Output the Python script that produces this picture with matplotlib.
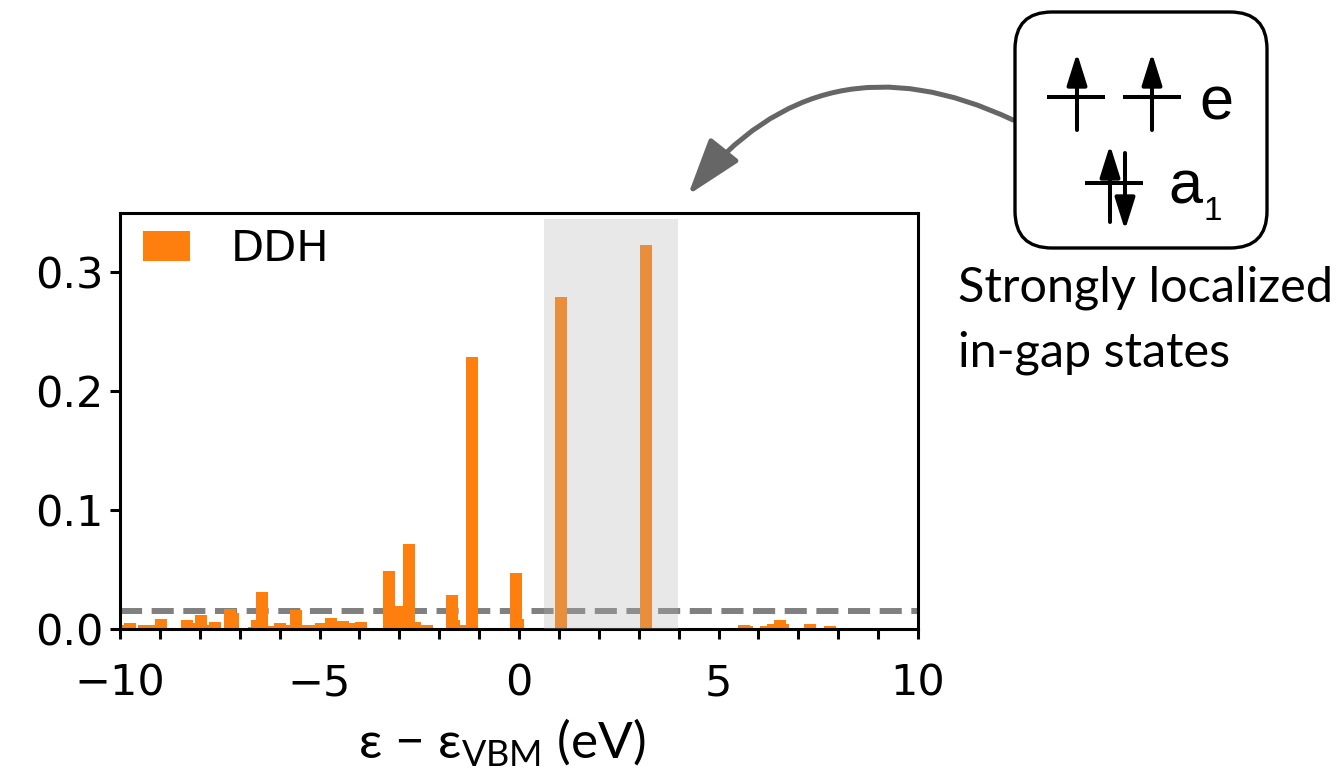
import matplotlib
matplotlib.use("Agg")
import matplotlib.pyplot as plt
from matplotlib.ticker import MultipleLocator
from matplotlib.patches import FancyArrowPatch, FancyBboxPatch

# ---- data (energies relative to VBM, eV) ----
energies = [-9.95, -9.75, -9.4, -9.2, -8.97, -8.32, -8.12, -7.97, -7.8, -7.62,
            -7.24, -7.17, -6.64, -6.57, -6.44, -6.19, -5.99, -5.74, -5.59, -5.39,
            -5.29, -5.09, -4.96, -4.71, -4.42, -4.25, -4.15, -3.96, -3.26, -3.03,
            -2.76, -2.61, -2.31, -1.68, -1.63, -1.48, -1.18, -0.075, -0.025, 1.05,
            3.18, 5.64, 5.71, 6.19, 6.37, 6.54, 6.62, 7.29, 7.79, 7.94]
weights = [0.0034, 0.005, 0.0034, 0.0034, 0.0084, 0.0076, 0.005, 0.0118, 0.003, 0.0056,
           0.0168, 0.0134, 0.0017, 0.0076, 0.031, 0.0025, 0.0048, 0.003, 0.016, 0.003,
           0.0017, 0.003, 0.005, 0.0092, 0.0067, 0.003, 0.005, 0.0059, 0.0487, 0.0193,
           0.0714, 0.006, 0.003, 0.0286, 0.0072, 0.003, 0.229, 0.047, 0.0084, 0.279,
           0.3227, 0.0034, 0.0025, 0.0025, 0.0042, 0.0076, 0.004, 0.004, 0.0025, 0.001]
threshold = 0.0154
gap_region = (0.63, 3.98)
gap_top = 0.345
series_label = "DDH"
xticks = [-10, -5, 0, 5, 10]
yticks = [0.0, 0.1, 0.2, 0.3]

W, H, DPI = 1339, 770, 100
fig = plt.figure(figsize=(W / DPI, H / DPI), dpi=DPI)
ax = fig.add_axes([120 / W, 1 - 629 / H, (918 - 120) / W, (629 - 213) / H])

ax.axhline(threshold, color="#808080", lw=4.3, ls="--", zorder=1)
ax.bar(energies, weights, width=0.3, color="#ff7f0e", label=series_label, zorder=2)
ax.fill_between(list(gap_region), 0, gap_top, color="#b3b3b3", alpha=0.29, lw=0, zorder=3)

ax.set_xlim(-10, 10)
ax.set_ylim(0, 0.35)
ax.set_xticks(xticks)
ax.set_yticks(yticks)
ax.xaxis.set_minor_locator(MultipleLocator(1))
ax.tick_params(which="both", direction="out", length=7, width=2.2, labelsize=31,
               pad=5, top=False, right=False)
ax.tick_params(axis="x", which="major", pad=17)
for s in ax.spines.values():
    s.set_linewidth(2.2)
ax.set_yticklabels(["0.0", "0.1", "0.2", "0.3"])
ax.set_xlabel(r"ε − ε$_\mathregular{VBM}$ (eV)", fontsize=37,
              family=["Lato", "DejaVu Sans"], labelpad=9, x=0.479)

leg = ax.legend(loc="upper left", bbox_to_anchor=(0.0288, 0.964), borderaxespad=0,
                borderpad=0, frameon=False, fontsize=31, handlelength=1.1,
                handleheight=0.7, handletextpad=0.93)

# ---- overlay for the annotation box and arrows (pixel coordinates) ----
ov = fig.add_axes([0, 0, 1, 1])
ov.set_xlim(0, W)
ov.set_ylim(H, 0)
ov.axis("off")

box = FancyBboxPatch((1015, 12), 252, 236, boxstyle="round,pad=0,rounding_size=37",
                     fc="white", ec="black", lw=2.4, zorder=5)
ov.add_patch(box)

def arrow(p0, p1, lw, hl, hw, color="black", z=6, cs="arc3,rad=0"):
    a = FancyArrowPatch(p0, p1, arrowstyle=f"-|>,head_length={hl},head_width={hw}",
                        connectionstyle=cs, mutation_scale=1, lw=lw, color=color,
                        shrinkA=0, shrinkB=0, zorder=z)
    ov.add_patch(a)

lvl_lw = 2.9
# e levels
ov.plot([1047, 1105], [97, 97], color="black", lw=lvl_lw, solid_capstyle="butt", zorder=6)
ov.plot([1123, 1181], [97, 97], color="black", lw=lvl_lw, solid_capstyle="butt", zorder=6)
arrow((1077, 130), (1077, 53), lvl_lw, 19.4, 6.1)
arrow((1152, 130), (1152, 53), lvl_lw, 19.4, 6.1)
# a1 level
ov.plot([1085, 1143], [183, 183], color="black", lw=lvl_lw, solid_capstyle="butt", zorder=6)
arrow((1110, 222), (1110, 145), lvl_lw, 19.4, 6.1)
arrow((1125, 153), (1125, 230), lvl_lw, 19.4, 6.1)

ov.text(1199, 120, "e", fontsize=44, family="Liberation Sans", va="baseline", zorder=7)
ov.text(1168, 203, "a", fontsize=44, family="Liberation Sans", va="baseline", zorder=7)
ov.text(1204, 220, "1", fontsize=24, family="Liberation Sans", va="baseline", zorder=7)

# curved arrow to the gap region
arrow((1013, 120), (688, 195), 3.6, 35, 11.5, color="#666666", z=4,
      cs="arc3,rad=0.395")

ov.text(958, 266, "Strongly localized\nin-gap states", fontsize=35, family="Lato",
        va="top", ha="left", linespacing=1.55)

fig.savefig("out.png", dpi=DPI)
